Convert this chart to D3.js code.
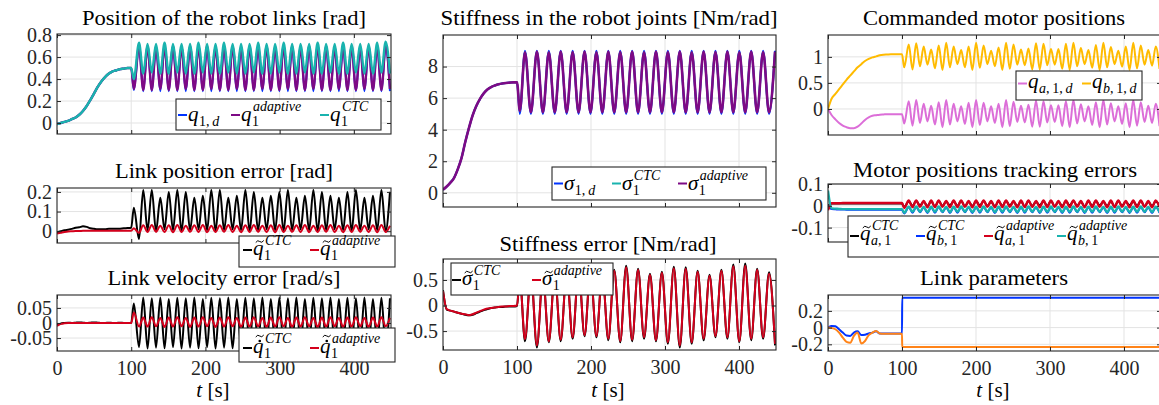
<!DOCTYPE html>
<html>
<head>
<meta charset="utf-8">
<script src="https://cdn.jsdelivr.net/npm/d3@7"></script>
<style>
  body { margin: 0; background: #fff; }
  svg { display: block; }
</style>
</head>
<body>
<div id="figure"></div>
<script>
// ---------- data ----------
const xTicks = [0, 100, 200, 300, 400];

// samples of the slow start phase, 0..100 s
const preT = [0, 5, 10, 15, 20, 25, 30, 35, 40, 45, 50, 55, 60, 65, 70, 75, 80, 85, 90, 95, 100];
const q1Pre = [-0.01, 0.0, 0.01, 0.02, 0.035, 0.05, 0.075, 0.11, 0.155, 0.21, 0.27, 0.33, 0.38, 0.42, 0.45, 0.47, 0.48, 0.49, 0.495, 0.5, 0.5];
const qErrCtcPre = [-0.005, 0.0, 0.005, 0.008, 0.012, 0.018, 0.02, 0.025, 0.022, 0.015, 0.012, 0.01, 0.01, 0.01, 0.012, 0.012, 0.012, 0.013, 0.015, 0.016, 0.018];
const qErrAdPre = [-0.012, -0.008, -0.004, -0.001, 0.0, 0.001, 0.001, 0.002, 0.002, 0.002, 0.002, 0.002, 0.002, 0.002, 0.002, 0.002, 0.002, 0.002, 0.002, 0.002, 0.002];
const velCtcPre = [-0.008, -0.002, 0.0, 0.001, 0.0, 0.001, 0.002, 0.001, 0.0, 0.001, 0.002, 0.001, 0.0, 0.0, 0.001, 0.0, 0.0, 0.001, 0.0, 0.0, 0.0];
const velAdPre = [-0.01, -0.003, -0.001, 0.0, 0.0, 0.0, 0.0, 0.0, 0.0, 0.0, 0.0, 0.0, 0.0, 0.0, 0.0, 0.0, 0.0, 0.0, 0.0, 0.0, 0.0];
const sigmaPre = [0.2, 0.4, 0.65, 0.95, 1.5, 2.2, 3.2, 4.1, 4.9, 5.5, 5.95, 6.3, 6.55, 6.7, 6.8, 6.88, 6.93, 6.96, 6.98, 7.0, 7.0];
const sErrCtcPre = [0.3, -0.08, -0.1, -0.12, -0.14, -0.16, -0.18, -0.19, -0.18, -0.15, -0.12, -0.09, -0.07, -0.05, -0.04, -0.03, -0.03, -0.02, -0.02, -0.02, -0.01];
const sErrAdPre = [0.28, -0.07, -0.1, -0.12, -0.14, -0.16, -0.17, -0.19, -0.17, -0.14, -0.11, -0.08, -0.06, -0.05, -0.04, -0.03, -0.02, -0.02, -0.01, -0.01, 0.0];
const qaPre = [0, -0.12, -0.2, -0.27, -0.32, -0.35, -0.37, -0.37, -0.34, -0.28, -0.21, -0.16, -0.13, -0.12, -0.11, -0.105, -0.1, -0.1, -0.1, -0.1, -0.1];
const qbPre = [0, 0.2, 0.29, 0.38, 0.47, 0.56, 0.64, 0.72, 0.8, 0.86, 0.92, 0.96, 0.99, 1.01, 1.03, 1.04, 1.045, 1.05, 1.05, 1.05, 1.05];
const eQaCtcPre = [0.0, 0.01, 0.01, 0.01, 0.01, 0.01, 0.01, 0.01, 0.01, 0.01, 0.01, 0.01, 0.01, 0.01, 0.01, 0.01, 0.01, 0.01, 0.01, 0.01, 0.01];
const eQbCtcPre = [0.0, -0.015, -0.016, -0.017, -0.017, -0.018, -0.018, -0.018, -0.018, -0.018, -0.018, -0.018, -0.018, -0.018, -0.018, -0.018, -0.018, -0.018, -0.018, -0.018, -0.018];
const eQaAdPre = [-0.02, 0.012, 0.012, 0.012, 0.013, 0.013, 0.013, 0.013, 0.013, 0.013, 0.013, 0.013, 0.013, 0.013, 0.013, 0.013, 0.013, 0.013, 0.013, 0.013, 0.013];
const eQbAdPre = [0.07, -0.012, -0.013, -0.014, -0.015, -0.015, -0.015, -0.015, -0.015, -0.015, -0.015, -0.015, -0.015, -0.015, -0.015, -0.015, -0.015, -0.015, -0.015, -0.015, -0.015];
const linkBluePre = [0, 0.02, 0.015, -0.02, -0.06, -0.095, -0.1, -0.06, -0.045, -0.09, -0.085, -0.07, -0.06, -0.045, -0.07, -0.07, -0.07, -0.07, -0.07, -0.07, -0.07];
const linkOrangePre = [0, -0.005, -0.02, -0.06, -0.12, -0.17, -0.18, -0.1, -0.06, -0.19, -0.16, -0.09, -0.06, -0.04, -0.07, -0.075, -0.075, -0.075, -0.075, -0.075, -0.075];
const linkPostT = [100.3, 450];
const linkBluePost = [0.358, 0.358];
const linkOrangePost = [-0.232, -0.232];

// extrema times of the link position oscillation
const posPeakT = [110.5, 122.0, 133.4, 144.9, 156.3, 167.8, 179.3, 190.7, 202.2, 213.6,
  225.1, 236.6, 248.0, 259.5, 270.9, 282.4, 293.9, 305.3, 316.8, 328.2,
  339.7, 351.2, 362.6, 374.1, 385.5, 397.0, 408.5, 419.9, 431.4, 442.8];
const posTroughT = [103.5, 116.2, 127.7, 139.2, 150.6, 162.1, 173.5, 185.0, 196.5, 207.9,
  219.4, 230.8, 242.3, 253.8, 265.2, 276.7, 288.1, 299.6, 311.1, 322.5,
  334.0, 345.4, 356.9, 368.4, 379.8, 391.3, 402.7, 414.2, 425.7, 437.1, 448.6];

const q1dPeaks = [0.70, 0.70, 0.70, 0.70, 0.70, 0.70, 0.70, 0.70, 0.70, 0.70,
  0.70, 0.70, 0.70, 0.70, 0.70, 0.70, 0.70, 0.70, 0.70, 0.70,
  0.70, 0.70, 0.70, 0.70, 0.70, 0.70, 0.70, 0.70, 0.70, 0.70];
const q1dTroughs = [0.30, 0.29, 0.29, 0.29, 0.29, 0.29, 0.29, 0.29, 0.29, 0.29,
  0.29, 0.29, 0.29, 0.29, 0.29, 0.29, 0.29, 0.29, 0.29, 0.29,
  0.29, 0.29, 0.29, 0.29, 0.29, 0.29, 0.29, 0.29, 0.29, 0.29, 0.29];
const q1AdPeaks = [0.70, 0.70, 0.69, 0.70, 0.70, 0.69, 0.70, 0.70, 0.70, 0.69,
  0.70, 0.70, 0.69, 0.70, 0.70, 0.70, 0.69, 0.70, 0.70, 0.69,
  0.70, 0.70, 0.70, 0.69, 0.70, 0.70, 0.69, 0.70, 0.70, 0.70];
const q1AdTroughs = [0.31, 0.30, 0.30, 0.31, 0.30, 0.30, 0.31, 0.30, 0.30, 0.31,
  0.30, 0.30, 0.31, 0.30, 0.30, 0.31, 0.30, 0.30, 0.31, 0.30,
  0.30, 0.31, 0.30, 0.30, 0.31, 0.30, 0.30, 0.31, 0.30, 0.30, 0.31];
const q1CtcPeaks = [0.73, 0.72, 0.72, 0.73, 0.72, 0.72, 0.72, 0.73, 0.72, 0.72,
  0.73, 0.72, 0.72, 0.72, 0.73, 0.72, 0.72, 0.73, 0.72, 0.72,
  0.72, 0.73, 0.72, 0.72, 0.73, 0.72, 0.72, 0.72, 0.73, 0.74];
const q1CtcTroughs = [0.40, 0.45, 0.46, 0.45, 0.45, 0.46, 0.45, 0.45, 0.46, 0.45,
  0.45, 0.46, 0.45, 0.45, 0.46, 0.45, 0.45, 0.46, 0.45, 0.45,
  0.46, 0.45, 0.45, 0.46, 0.45, 0.45, 0.46, 0.45, 0.45, 0.46, 0.45];

// position error: peaks sit at posTroughT, troughs at posPeakT
const qErrCtcPeaks = [0.12, 0.21, 0.21, 0.17, 0.20, 0.21, 0.20, 0.17, 0.18, 0.21,
  0.21, 0.17, 0.18, 0.21, 0.20, 0.17, 0.18, 0.20, 0.21, 0.17,
  0.18, 0.21, 0.20, 0.18, 0.17, 0.20, 0.21, 0.17, 0.18, 0.21, 0.20];
const qErrCtcTroughs = [-0.04, 0.005, 0.0, 0.01, 0.005, 0.0, 0.005, 0.01, 0.005, 0.0,
  0.005, 0.01, 0.005, 0.0, 0.005, 0.01, 0.005, 0.0, 0.005, 0.01,
  0.005, 0.0, 0.005, 0.01, 0.005, 0.0, 0.005, 0.01, 0.005, 0.0];
const qErrAdPeaks = [0.015, 0.03, 0.032, 0.028, 0.03, 0.032, 0.028, 0.03, 0.032, 0.028,
  0.03, 0.032, 0.028, 0.03, 0.032, 0.028, 0.03, 0.032, 0.028, 0.03,
  0.032, 0.028, 0.03, 0.032, 0.028, 0.03, 0.032, 0.028, 0.03, 0.032, 0.028];
const qErrAdTroughs = [-0.008, -0.004, -0.003, -0.004, -0.005, -0.004, -0.003, -0.004, -0.005, -0.004,
  -0.003, -0.004, -0.005, -0.004, -0.003, -0.004, -0.005, -0.004, -0.003, -0.004,
  -0.005, -0.004, -0.003, -0.004, -0.005, -0.004, -0.003, -0.004, -0.005, -0.004];

const velCtcPeaks = [0.065, 0.085, 0.082, 0.085, 0.08, 0.084, 0.082, 0.085, 0.08, 0.084,
  0.082, 0.085, 0.08, 0.084, 0.082, 0.085, 0.08, 0.084, 0.082, 0.085,
  0.08, 0.084, 0.082, 0.085, 0.08, 0.084, 0.082, 0.085, 0.08, 0.084, 0.082];
const velCtcTroughs = [-0.08, -0.085, -0.082, -0.084, -0.08, -0.085, -0.082, -0.084, -0.08, -0.085,
  -0.082, -0.084, -0.08, -0.085, -0.082, -0.084, -0.08, -0.085, -0.082, -0.084,
  -0.08, -0.085, -0.082, -0.084, -0.08, -0.085, -0.082, -0.084, -0.08, -0.085];
const velAdPeaks = [0.035, 0.018, 0.019, 0.017, 0.018, 0.019, 0.017, 0.018, 0.019, 0.017,
  0.018, 0.019, 0.017, 0.018, 0.019, 0.017, 0.018, 0.019, 0.017, 0.018,
  0.019, 0.017, 0.018, 0.019, 0.017, 0.018, 0.019, 0.017, 0.018, 0.019, 0.017];
const velAdTroughs = [-0.012, -0.012, -0.011, -0.013, -0.012, -0.011, -0.013, -0.012, -0.011, -0.013,
  -0.012, -0.011, -0.013, -0.012, -0.011, -0.013, -0.012, -0.011, -0.013, -0.012,
  -0.011, -0.013, -0.012, -0.011, -0.013, -0.012, -0.011, -0.013, -0.012, -0.011];

// extrema times of the stiffness oscillation
const stiffPeakT = [110.8, 126.9, 143.0, 159.1, 175.2, 191.3, 207.3, 223.4, 239.5, 255.6, 271.7,
  287.8, 303.9, 320.0, 336.1, 352.2, 368.2, 384.3, 400.4, 416.5, 432.6, 448.7];
const stiffTroughT = [103.8, 118.8, 135.0, 151.0, 167.1, 183.2, 199.3, 215.3, 231.4, 247.5, 263.6,
  279.7, 295.8, 311.9, 328.0, 344.1, 360.2, 376.2, 392.3, 408.4, 424.5, 440.6];

const sigmaDPeaks = [9.0, 9.0, 9.0, 9.0, 9.0, 9.0, 9.0, 9.0, 9.0, 9.0, 9.0,
  9.0, 9.0, 9.0, 9.0, 9.0, 9.0, 9.0, 9.0, 9.0, 9.0, 9.0];
const sigmaDTroughs = [5.0, 5.0, 5.0, 5.0, 5.0, 5.0, 5.0, 5.0, 5.0, 5.0, 5.0,
  5.0, 5.0, 5.0, 5.0, 5.0, 5.0, 5.0, 5.0, 5.0, 5.0, 5.0];
const sigmaCtcPeaks = [8.9, 8.9, 8.9, 8.9, 8.9, 8.9, 8.9, 8.9, 8.9, 8.9, 8.9,
  8.9, 8.9, 8.9, 8.9, 8.9, 8.9, 8.9, 8.9, 8.9, 8.9, 8.9];
const sigmaCtcTroughs = [5.2, 5.15, 5.15, 5.15, 5.15, 5.15, 5.15, 5.15, 5.15, 5.15, 5.15,
  5.15, 5.15, 5.15, 5.15, 5.15, 5.15, 5.15, 5.15, 5.15, 5.15, 5.15];
const sigmaAdPeaks = [8.9, 8.95, 8.9, 8.95, 8.92, 8.95, 8.9, 8.95, 8.92, 8.95, 8.9,
  8.95, 8.92, 8.95, 8.9, 8.95, 8.92, 8.95, 8.9, 8.95, 8.92, 8.95];
const sigmaAdTroughs = [5.2, 5.1, 5.1, 5.1, 5.1, 5.1, 5.1, 5.1, 5.1, 5.1, 5.1,
  5.1, 5.1, 5.1, 5.1, 5.1, 5.1, 5.1, 5.1, 5.1, 5.1, 5.1];

// stiffness error: peaks at stiffTroughT, troughs at stiffPeakT
const sErrCtcPeaks = [0.55, 0.65, 0.6, 0.62, 0.68, 0.72, 0.7, 0.65, 0.7, 0.78, 0.72,
  0.62, 0.66, 0.76, 0.75, 0.68, 0.6, 0.7, 0.8, 0.82, 0.72, 0.65];
const sErrCtcTroughs = [-0.7, -0.82, -0.72, -0.7, -0.65, -0.6, -0.62, -0.68, -0.72, -0.7, -0.65,
  -0.7, -0.75, -0.82, -0.75, -0.68, -0.62, -0.65, -0.72, -0.68, -0.65, -0.78];
const sErrAdPeaks = [0.52, 0.62, 0.58, 0.6, 0.65, 0.7, 0.68, 0.62, 0.68, 0.75, 0.7,
  0.6, 0.64, 0.73, 0.72, 0.66, 0.58, 0.68, 0.77, 0.78, 0.7, 0.62];
const sErrAdTroughs = [-0.66, -0.78, -0.7, -0.67, -0.62, -0.58, -0.6, -0.65, -0.7, -0.67, -0.62,
  -0.68, -0.72, -0.78, -0.72, -0.65, -0.6, -0.62, -0.7, -0.65, -0.62, -0.75];

// extrema times of the commanded motor oscillation
const motorPeakT = [109.1, 119.2, 129.3, 139.4, 149.6, 159.7, 169.8, 179.9, 190.0, 200.1,
  210.3, 220.4, 230.5, 240.6, 250.7, 260.8, 270.9, 281.1, 291.2, 301.3,
  311.4, 321.5, 331.6, 341.7, 351.9, 362.0, 372.1, 382.2, 392.3, 402.4,
  412.5, 422.7, 432.8, 442.9];
const motorTroughT = [103.0, 114.2, 124.3, 134.4, 144.5, 154.7, 164.8, 174.9, 185.0, 195.1,
  205.2, 215.4, 225.5, 235.6, 245.7, 255.8, 265.9, 276.0, 286.2, 296.3,
  306.4, 316.5, 326.6, 336.7, 346.8, 357.0, 367.1, 377.2, 387.3, 397.4,
  407.5, 417.6, 427.8, 437.9, 448.0];

const qbPeaks = [1.24, 1.26, 1.2, 1.14, 1.22, 1.27, 1.2, 1.13, 1.2, 1.27,
  1.22, 1.12, 1.18, 1.27, 1.24, 1.14, 1.16, 1.26, 1.25, 1.15,
  1.15, 1.25, 1.27, 1.17, 1.13, 1.23, 1.27, 1.19, 1.12, 1.2,
  1.27, 1.22, 1.13, 1.2];
const qbTroughs = [0.8, 0.76, 0.82, 0.85, 0.78, 0.75, 0.8, 0.86, 0.8, 0.75,
  0.79, 0.86, 0.82, 0.75, 0.77, 0.85, 0.84, 0.76, 0.76, 0.84,
  0.85, 0.77, 0.75, 0.82, 0.86, 0.79, 0.75, 0.8, 0.86, 0.81,
  0.75, 0.78, 0.85, 0.83, 0.77];
const qaPeaks = [0.15, 0.17, 0.1, 0.06, 0.13, 0.17, 0.1, 0.05, 0.12, 0.17,
  0.12, 0.05, 0.1, 0.17, 0.14, 0.06, 0.08, 0.16, 0.15, 0.07,
  0.07, 0.15, 0.17, 0.09, 0.05, 0.13, 0.17, 0.11, 0.05, 0.11,
  0.17, 0.13, 0.06, 0.1];
const qaTroughs = [-0.28, -0.32, -0.27, -0.24, -0.3, -0.35, -0.3, -0.24, -0.29, -0.35,
  -0.31, -0.24, -0.27, -0.35, -0.33, -0.25, -0.26, -0.34, -0.34, -0.26,
  -0.25, -0.33, -0.35, -0.28, -0.24, -0.31, -0.35, -0.3, -0.24, -0.29,
  -0.35, -0.32, -0.25, -0.27, -0.33];

const eQaCtcPeaks = [0.02, 0.022, 0.018, 0.02, 0.022, 0.018, 0.02, 0.022, 0.018, 0.02,
  0.022, 0.018, 0.02, 0.022, 0.018, 0.02, 0.022, 0.018, 0.02, 0.022,
  0.018, 0.02, 0.022, 0.018, 0.02, 0.022, 0.018, 0.02, 0.022, 0.018,
  0.02, 0.022, 0.018, 0.02];
const eQaCtcTroughs = [-0.005, 0.0, 0.002, 0.0, -0.002, 0.0, 0.002, 0.0, -0.002, 0.0,
  0.002, 0.0, -0.002, 0.0, 0.002, 0.0, -0.002, 0.0, 0.002, 0.0,
  -0.002, 0.0, 0.002, 0.0, -0.002, 0.0, 0.002, 0.0, -0.002, 0.0,
  0.002, 0.0, -0.002, 0.0, 0.002];
const eQbCtcPeaks = [-0.006, -0.005, -0.007, -0.006, -0.005, -0.007, -0.006, -0.005, -0.007, -0.006,
  -0.005, -0.007, -0.006, -0.005, -0.007, -0.006, -0.005, -0.007, -0.006, -0.005,
  -0.007, -0.006, -0.005, -0.007, -0.006, -0.005, -0.007, -0.006, -0.005, -0.007,
  -0.006, -0.005, -0.007, -0.006];
const eQbCtcTroughs = [-0.035, -0.032, -0.03, -0.033, -0.032, -0.03, -0.033, -0.032, -0.03, -0.033,
  -0.032, -0.03, -0.033, -0.032, -0.03, -0.033, -0.032, -0.03, -0.033, -0.032,
  -0.03, -0.033, -0.032, -0.03, -0.033, -0.032, -0.03, -0.033, -0.032, -0.03,
  -0.033, -0.032, -0.03, -0.033, -0.032];
const eQaAdPeaks = [0.024, 0.025, 0.022, 0.024, 0.025, 0.022, 0.024, 0.025, 0.022, 0.024,
  0.025, 0.022, 0.024, 0.025, 0.022, 0.024, 0.025, 0.022, 0.024, 0.025,
  0.022, 0.024, 0.025, 0.022, 0.024, 0.025, 0.022, 0.024, 0.025, 0.022,
  0.024, 0.025, 0.022, 0.024];
const eQaAdTroughs = [-0.01, -0.006, -0.005, -0.007, -0.006, -0.005, -0.007, -0.006, -0.005, -0.007,
  -0.006, -0.005, -0.007, -0.006, -0.005, -0.007, -0.006, -0.005, -0.007, -0.006,
  -0.005, -0.007, -0.006, -0.005, -0.007, -0.006, -0.005, -0.007, -0.006, -0.005,
  -0.007, -0.006, -0.005, -0.007, -0.006];
const eQbAdPeaks = [-0.004, -0.003, -0.005, -0.004, -0.003, -0.005, -0.004, -0.003, -0.005, -0.004,
  -0.003, -0.005, -0.004, -0.003, -0.005, -0.004, -0.003, -0.005, -0.004, -0.003,
  -0.005, -0.004, -0.003, -0.005, -0.004, -0.003, -0.005, -0.004, -0.003, -0.005,
  -0.004, -0.003, -0.005, -0.004];
const eQbAdTroughs = [-0.032, -0.028, -0.027, -0.029, -0.028, -0.027, -0.029, -0.028, -0.027, -0.029,
  -0.028, -0.027, -0.029, -0.028, -0.027, -0.029, -0.028, -0.027, -0.029, -0.028,
  -0.027, -0.029, -0.028, -0.027, -0.029, -0.028, -0.027, -0.029, -0.028, -0.027,
  -0.029, -0.028, -0.027, -0.029, -0.028];

// ---------- styles ----------
const color = {
  blue: "#0033ff",
  purple: "#7d0a85",
  cyan: "#19b3ae",
  red: "#d4001c",
  black: "#000000",
  qa: "#dc6ed8",
  qb: "#ffbb00",
  orange: "#ff8419",
  axis: "#262626",
  grid: "#e3e3e3"
};
const serif = "'Liberation Serif', 'Times New Roman', serif";

function pairs(t, v) { return t.map((d, i) => [d, v[i]]); }
function series(...parts) { return parts.flat().sort((a, b) => a[0] - b[0]); }

const W = 1159, H = 405;
const svg = d3.select("#figure").append("svg")
  .attr("width", W).attr("height", H)
  .attr("viewBox", `0 0 ${W} ${H}`)
  .attr("font-family", serif);

// ---------- panel ----------
function drawPanel(p) {
  const x = d3.scaleLinear().domain([0, 450]).range([p.left, p.right]);
  const y = d3.scaleLinear().domain(p.yDomain).range([p.bottom, p.top]);
  const g = svg.append("g");

  svg.append("clipPath").attr("id", "clip-" + p.id)
    .append("rect")
    .attr("x", p.left).attr("y", p.top)
    .attr("width", p.right - p.left).attr("height", p.bottom - p.top);

  // grid
  g.append("g").selectAll("line").data(xTicks.slice(1)).join("line")
    .attr("x1", d => x(d)).attr("x2", d => x(d))
    .attr("y1", p.top).attr("y2", p.bottom)
    .attr("stroke", color.grid).attr("stroke-width", 1);
  g.append("g").selectAll("line").data(p.yTicks).join("line")
    .attr("x1", p.left).attr("x2", p.right)
    .attr("y1", d => y(d)).attr("y2", d => y(d))
    .attr("stroke", color.grid).attr("stroke-width", 1);

  // data lines
  const line = d3.line()
    .x(d => x(d[0])).y(d => y(d[1]))
    .curve(d3.curveMonotoneX);
  g.append("g").attr("clip-path", `url(#clip-${p.id})`)
    .selectAll("path").data(p.series).join("path")
    .attr("d", s => line(s.data))
    .attr("fill", "none")
    .attr("stroke", s => s.color)
    .attr("stroke-width", s => s.width || 2)
    .attr("stroke-linejoin", "round");

  // axes, ticks inward on all four sides
  const styleAxis = a => {
    a.select(".domain").remove();
    a.selectAll(".tick line").attr("stroke", color.axis);
    a.selectAll("text").attr("fill", color.axis);
    a.attr("font-family", serif).attr("font-size", 20);
  };
  g.append("g").attr("transform", `translate(${p.left},0)`)
    .call(d3.axisLeft(y).tickValues(p.yTicks).tickSize(-4).tickPadding(5).tickFormat(d => String(d)))
    .call(styleAxis);
  g.append("g").attr("transform", `translate(${p.right},0)`)
    .call(d3.axisRight(y).tickValues(p.yTicks).tickSize(-4).tickFormat(""))
    .call(styleAxis);
  g.append("g").attr("transform", `translate(0,${p.bottom})`)
    .call(d3.axisBottom(x).tickValues(xTicks).tickSize(-4).tickPadding(10)
      .tickFormat(p.xLabels ? d => String(d) : ""))
    .call(styleAxis);
  g.append("g").attr("transform", `translate(0,${p.top})`)
    .call(d3.axisTop(x).tickValues(xTicks).tickSize(-4).tickFormat(""))
    .call(styleAxis);

  g.append("rect")
    .attr("x", p.left).attr("y", p.top)
    .attr("width", p.right - p.left).attr("height", p.bottom - p.top)
    .attr("fill", "none").attr("stroke", color.axis).attr("stroke-width", 1.1);

  // title
  svg.append("text")
    .attr("x", p.title.x).attr("y", p.title.y)
    .attr("text-anchor", "middle")
    .attr("font-size", 21)
    .attr("textLength", p.title.w).attr("lengthAdjust", "spacingAndGlyphs")
    .text(p.title.text);

  if (p.xLabels) {
    const t = svg.append("text")
      .attr("x", p.xLabelX).attr("y", 397)
      .attr("text-anchor", "middle").attr("font-size", 21);
    t.append("tspan").attr("font-style", "italic").text("t");
    t.append("tspan").text(" [s]");
  }

  if (p.legend) drawLegend(p.legend);
}

// ---------- legend with small math labels ----------
function scriptText(g, x, y, str) {
  const t = g.append("text").attr("x", x).attr("y", y).attr("font-size", 14);
  str.match(/[A-Za-z]+|[^A-Za-z]+/g).forEach(run => {
    t.append("tspan")
      .attr("font-style", /[A-Za-z]/.test(run) ? "italic" : "normal")
      .text(run.replace(/,/g, ",\u2009"));
  });
  return t.node().getComputedTextLength();
}

function tilde(g, cx, cy) {
  g.append("path")
    .attr("d", `M${cx - 4},${cy + 1} q2,-3 4,-1 t4,-1`)
    .attr("fill", "none").attr("stroke", "#000").attr("stroke-width", 1);
}

function drawLegend(L) {
  const g = svg.append("g");
  g.append("rect")
    .attr("x", L.x).attr("y", L.y).attr("width", L.w).attr("height", L.h)
    .attr("fill", "#fff").attr("stroke", color.axis).attr("stroke-width", 1.1);
  L.entries.forEach(e => {
    g.append("line")
      .attr("x1", e.x).attr("x2", e.x + 9)
      .attr("y1", L.lineY).attr("y2", L.lineY)
      .attr("stroke", e.color).attr("stroke-width", 2);
    const x0 = e.x + 10;
    const base = g.append("text")
      .attr("x", x0).attr("y", L.base)
      .attr("font-size", 21).attr("font-style", "italic")
      .text(e.base);
    const bw = base.node().getComputedTextLength();
    const cx = x0 + bw / 2 + 1.5;
    if (e.accent === "tilde") tilde(g, cx, L.base - 13);
    if (e.accent === "dottilde") {
      g.append("circle").attr("cx", cx).attr("cy", L.base - 12).attr("r", 1.3).attr("fill", "#000");
      tilde(g, cx, L.base - 17);
    }
    if (e.sub) scriptText(g, x0 + bw + 0.5, L.base + 5, e.sub);
    if (e.sup) scriptText(g, x0 + bw + 1.5, L.base - 10, e.sup);
  });
}

// ---------- panels ----------
const panels = [
  {
    id: "pos", left: 57, right: 391, top: 34, bottom: 134,
    yDomain: [-0.1, 0.81], yTicks: [0, 0.2, 0.4, 0.6, 0.8],
    title: { text: "Position of the robot links [rad]", x: 224, y: 25, w: 284 },
    series: [
      { color: color.blue, data: series(pairs(preT, q1Pre), pairs(posPeakT, q1dPeaks), pairs(posTroughT, q1dTroughs)) },
      { color: color.purple, width: 2.4, data: series(pairs(preT, q1Pre), pairs(posPeakT, q1AdPeaks), pairs(posTroughT, q1AdTroughs)) },
      { color: color.cyan, width: 2.4, data: series(pairs(preT, q1Pre), pairs(posPeakT, q1CtcPeaks), pairs(posTroughT, q1CtcTroughs)) }
    ],
    legend: {
      x: 176, y: 99, w: 205, h: 31, lineY: 115, base: 121,
      entries: [
        { x: 178, color: color.blue, base: "q", sub: "1,d" },
        { x: 231, color: color.purple, base: "q", sub: "1", sup: "adaptive" },
        { x: 320, color: color.cyan, base: "q", sub: "1", sup: "CTC" }
      ]
    }
  },
  {
    id: "perr", left: 57, right: 391, top: 188, bottom: 243,
    yDomain: [-0.06, 0.22], yTicks: [0, 0.1, 0.2],
    title: { text: "Link position error [rad]", x: 224, y: 178, w: 218 },
    series: [
      { color: color.black, data: series(pairs(preT, qErrCtcPre), pairs(posTroughT, qErrCtcPeaks), pairs(posPeakT, qErrCtcTroughs)) },
      { color: color.red, data: series(pairs(preT, qErrAdPre), pairs(posTroughT, qErrAdPeaks), pairs(posPeakT, qErrAdTroughs)) }
    ],
    legend: {
      x: 239, y: 236, w: 156, h: 31, lineY: 250, base: 254.5,
      entries: [
        { x: 243, color: color.black, base: "q", accent: "tilde", sub: "1", sup: "CTC" },
        { x: 310, color: color.red, base: "q", accent: "tilde", sub: "1", sup: "adaptive" }
      ]
    }
  },
  {
    id: "verr", left: 57, right: 391, top: 295, bottom: 351, xLabels: true, xLabelX: 213,
    yDomain: [-0.093, 0.093], yTicks: [-0.05, 0, 0.05],
    title: { text: "Link velocity error [rad/s]", x: 224, y: 285, w: 233 },
    series: [
      { color: color.black, data: series(pairs(preT, velCtcPre), pairs(posTroughT, velCtcPeaks), pairs(posPeakT, velCtcTroughs)) },
      { color: color.red, data: series(pairs(preT, velAdPre), pairs(posTroughT, velAdPeaks), pairs(posPeakT, velAdTroughs)) }
    ],
    legend: {
      x: 239, y: 328, w: 156, h: 34, lineY: 348, base: 353,
      entries: [
        { x: 243, color: color.black, base: "q", accent: "dottilde", sub: "1", sup: "CTC" },
        { x: 310, color: color.red, base: "q", accent: "dottilde", sub: "1", sup: "adaptive" }
      ]
    }
  },
  {
    id: "stiff", left: 443, right: 776, top: 35, bottom: 207,
    yDomain: [-0.9, 10], yTicks: [0, 2, 4, 6, 8],
    title: { text: "Stiffness in the robot joints [Nm/rad]", x: 609, y: 25, w: 337 },
    series: [
      { color: color.blue, data: series(pairs(preT, sigmaPre), pairs(stiffPeakT, sigmaDPeaks), pairs(stiffTroughT, sigmaDTroughs)) },
      { color: color.cyan, data: series(pairs(preT, sigmaPre), pairs(stiffPeakT, sigmaCtcPeaks), pairs(stiffTroughT, sigmaCtcTroughs)) },
      { color: color.purple, width: 2.6, data: series(pairs(preT, sigmaPre), pairs(stiffPeakT, sigmaAdPeaks), pairs(stiffTroughT, sigmaAdTroughs)) }
    ],
    legend: {
      x: 552, y: 167, w: 214, h: 33, lineY: 183.5, base: 190,
      entries: [
        { x: 554, color: color.blue, base: "σ", sub: "1,d" },
        { x: 612, color: color.cyan, base: "σ", sub: "1", sup: "CTC" },
        { x: 678, color: color.purple, base: "σ", sub: "1", sup: "adaptive" }
      ]
    }
  },
  {
    id: "serr", left: 443, right: 776, top: 259, bottom: 350, xLabels: true, xLabelX: 608,
    yDomain: [-0.87, 0.91], yTicks: [-0.5, 0, 0.5],
    title: { text: "Stiffness error [Nm/rad]", x: 608, y: 251, w: 217 },
    series: [
      { color: color.black, data: series(pairs(preT, sErrCtcPre), pairs(stiffTroughT, sErrCtcPeaks), pairs(stiffPeakT, sErrCtcTroughs)) },
      { color: color.red, data: series(pairs(preT, sErrAdPre), pairs(stiffTroughT, sErrAdPeaks), pairs(stiffPeakT, sErrAdTroughs)) }
    ],
    legend: {
      x: 451, y: 263, w: 162, h: 32, lineY: 280, base: 285,
      entries: [
        { x: 452, color: color.black, base: "σ", accent: "tilde", sub: "1", sup: "CTC" },
        { x: 532, color: color.red, base: "σ", accent: "tilde", sub: "1", sup: "adaptive" }
      ]
    }
  },
  {
    id: "motor", left: 828, right: 1161, top: 35, bottom: 135,
    yDomain: [-0.5, 1.42], yTicks: [0, 0.5, 1],
    title: { text: "Commanded motor positions", x: 994, y: 25, w: 262 },
    series: [
      { color: color.qa, data: series(pairs(preT, qaPre), pairs(motorPeakT, qaPeaks), pairs(motorTroughT, qaTroughs)) },
      { color: color.qb, data: series(pairs(preT, qbPre), pairs(motorPeakT, qbPeaks), pairs(motorTroughT, qbTroughs)) }
    ],
    legend: {
      x: 1016, y: 71, w: 126, h: 29, lineY: 83.5, base: 88,
      entries: [
        { x: 1018, color: color.qa, base: "q", sub: "a,1,d" },
        { x: 1082, color: color.qb, base: "q", sub: "b,1,d" }
      ]
    }
  },
  {
    id: "merr", left: 828, right: 1161, top: 184, bottom: 242,
    yDomain: [-0.166, 0.1], yTicks: [-0.1, 0, 0.1],
    title: { text: "Motor positions tracking errors", x: 995, y: 177, w: 284 },
    series: [
      { color: color.black, data: series(pairs(preT, eQaCtcPre), pairs(motorPeakT, eQaCtcPeaks), pairs(motorTroughT, eQaCtcTroughs)) },
      { color: color.blue, data: series(pairs(preT, eQbCtcPre), pairs(motorPeakT, eQbCtcPeaks), pairs(motorTroughT, eQbCtcTroughs)) },
      { color: color.red, width: 2.4, data: series(pairs(preT, eQaAdPre), pairs(motorPeakT, eQaAdPeaks), pairs(motorTroughT, eQaAdTroughs)) },
      { color: color.cyan, width: 2.4, data: series(pairs(preT, eQbAdPre), pairs(motorPeakT, eQbAdPeaks), pairs(motorTroughT, eQbAdTroughs)) }
    ],
    legend: {
      x: 848, y: 216, w: 320, h: 41, lineY: 236, base: 240,
      entries: [
        { x: 850, color: color.black, base: "q", accent: "tilde", sub: "a,1", sup: "CTC" },
        { x: 916, color: color.blue, base: "q", accent: "tilde", sub: "b,1", sup: "CTC" },
        { x: 984, color: color.red, base: "q", accent: "tilde", sub: "a,1", sup: "adaptive" },
        { x: 1057, color: color.cyan, base: "q", accent: "tilde", sub: "b,1", sup: "adaptive" }
      ]
    }
  },
  {
    id: "link", left: 828, right: 1161, top: 295, bottom: 351, xLabels: true, xLabelX: 993,
    yDomain: [-0.28, 0.39], yTicks: [-0.2, 0, 0.2],
    title: { text: "Link parameters", x: 994, y: 285, w: 148 },
    series: [
      { color: color.blue, data: series(pairs(preT, linkBluePre), pairs(linkPostT, linkBluePost)) },
      { color: color.orange, data: series(pairs(preT, linkOrangePre), pairs(linkPostT, linkOrangePost)) }
    ]
  }
];

panels.forEach(drawPanel);
</script>
</body>
</html>
